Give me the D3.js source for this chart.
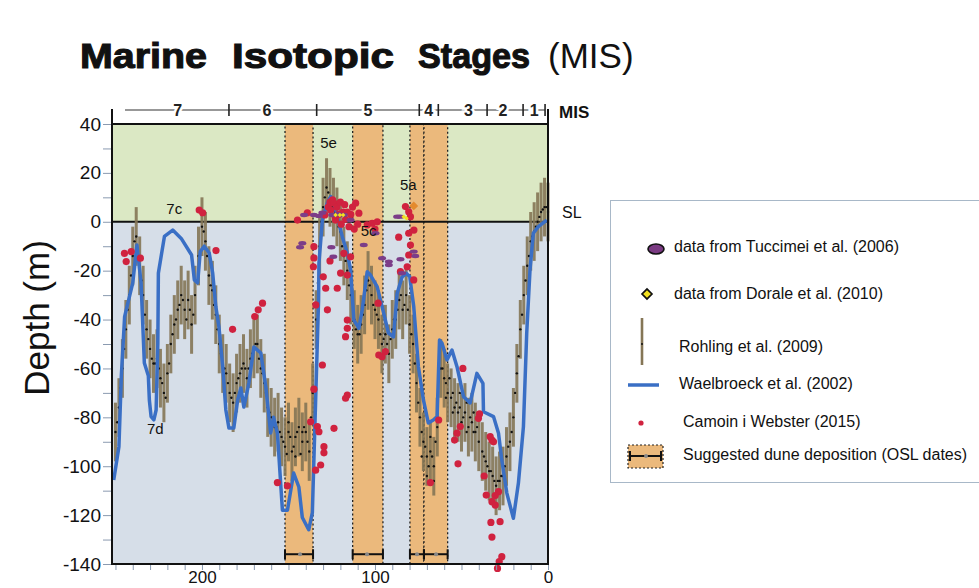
<!DOCTYPE html>
<html>
<head>
<meta charset="utf-8">
<script src="https://cdn.jsdelivr.net/npm/d3@7"></script>
<style>
  body { margin: 0; background: #fff; }
  svg { font-family: "Liberation Sans", Arial, sans-serif; }
</style>
</head>
<body>
<div id="chart"></div>
<script>
// Sea level curves and dune deposition windows, last ~250 kyr

// MIS stage boundaries (kyr) and label positions
const misBounds = [184.4, 133.7, 74.4, 63.4, 35.2, 14.4, 1.7];
const misLabels = [['7', 214], ['6', 162.5], ['5', 104], ['4', 69], ['3', 46], ['2', 26], ['1', 8]];

// tick labels
const yLabelTicks = [-140, -120, -100, -80, -60, -40, -20, 0, 20, 40];
const xLabelTicks = [200, 100, 0];

// OSL dune deposition windows [centre, younger, older]
const oslDates = [[143.3, 135.8, 152], [104.6, 95.4, 112.9], [75.7, 71.7, 79.8], [64.7, 58, 71.7]];

// Rohling et al. (2009) [age, depth], +/- error
const rohlingErr = 12;
const rohling = [
  [250,-86],[248,-76],[246,-60],[244,-44],[242,-30],[240,-14],[238,-6],[236,-18],[234,-30],[232,-44],
  [230,-52],[228,-58],[226,-56],[224,-64],[222,-70],[220,-62],[218,-50],[216,-42],[214,-36],[212,-30],
  [210,-36],[208,-32],[206,-42],[204,-30],[202,-14],[200,-2],[198,-8],[196,-22],[194,-28],[192,-38],
  [190,-50],[188,-58],[186,-62],[184,-70],[182,-74],[180,-66],[178,-62],[176,-58],[174,-64],[172,-56],
  [170,-52],[168,-50],[166,-60],[164,-66],[162,-76],[160,-80],[158,-84],[156,-82],[154,-88],[152,-92],
  [150,-86],[148,-94],[146,-88],[144,-84],[142,-90],[140,-86],[138,-94],[136,-70],[134,-40],[132,-10],
  [130,6],[128,14],[126,10],[124,6],[122,2],[120,-4],[118,-14],[116,-20],[114,-30],[112,-40],
  [110,-46],[108,-42],[106,-34],[104,-24],[102,-30],[100,-36],[98,-40],[96,-50],[94,-46],[92,-54],
  [90,-44],[88,-40],[86,-32],[84,-36],[82,-30],[80,-42],[78,-50],[76,-66],[74,-80],[72,-90],
  [70,-96],[68,-94],[66,-100],[64,-84],[62,-60],[60,-64],[58,-70],[56,-72],[54,-76],[52,-78],
  [50,-82],[48,-78],[46,-84],[44,-82],[42,-86],[40,-90],[38,-94],[36,-98],[34,-102],[32,-104],
  [30,-108],[28,-106],[26,-104],[24,-96],[22,-90],[20,-80],[18,-62],[16,-44],[14,-30],[12,-18],
  [10,-8],[8,-4],[6,0],[4,4],[2,6],[0,4]
];

// Rohling et al. (2009) extra sample points (dots only) [age, depth]
const rohlingDots = [
  [249,-82],[247,-68],[245,-52],[243,-36],[241,-22],[239,-8],[237,-12],[235,-24],[233,-38],[231,-48],
  [229,-56],[227,-58],[225,-60],[223,-66],[221,-72],[219,-58],[217,-46],[215,-40],[213,-34],[211,-32],
  [209,-40],[207,-36],[205,-38],[199,-4],[197,-14],[195,-26],[193,-34],[191,-44],[189,-54],[187,-60],
  [185,-66],[183,-72],[181,-70],[179,-64],[177,-60],[175,-60],[173,-60],[171,-54],[169,-50],[167,-56],
  [165,-62],[163,-70],[161,-78],[159,-82],[157,-84],[155,-86],
  [153,-90],[151,-95],[149,-88],[147,-92],[145,-86],[143,-95],[141,-84],[139,-90],[137,-80],[150,-82],
  [146,-96],[142,-86],
  [133,-25],[131,0],[129,10],[127,12],[125,6],[123,4],[121,-2],[119,-10],[117,-16],[115,-26],
  [111,-44],[109,-46],[107,-38],[105,-28],[103,-26],[101,-34],[99,-38],[97,-46],[95,-48],[93,-50],
  [91,-48],[89,-40],[87,-36],[85,-30],[83,-34],[81,-36],[79,-46],[77,-58],
  [75,-74],[73,-86],[71,-92],[69,-100],[67,-96],[65,-90],[73,-96],[70,-104],[68,-88],[66,-106],[64,-78],
  [61,-60],[59,-66],[57,-64],[55,-70],[53,-74],[51,-76],[49,-80],[47,-74],[45,-80],[43,-86],[41,-84],
  [59,-72],[55,-78],[51,-70],[47,-86],[43,-78],
  [37,-96],[35,-100],[33,-102],[31,-106],[29,-106],[27,-104],[25,-100],[23,-92],[21,-86],
  [19,-70],[17,-55],[15,-38],[13,-24],[11,-14],[9,-6],[7,-2],[5,2],[3,5],[1,6]
];

// Waelbroeck et al. (2002) [age, depth]
const waelbroeck = [
  [251,-105.6],[248,-92],[246.6,-63],[244.7,-38.8],[240,-25],[237.6,-9.5],[235.2,-25],[233.3,-57.8],
  [231,-63],[230.4,-73],[229.4,-79.7],[227.8,-81],[226.5,-77],[225.5,-49.6],[225.2,-21],[221.7,-6],
  [216.9,-3.4],[212,-6.8],[206,-13.6],[204.4,-23.8],[202.5,-25],[201,-12.2],[198.7,-10],[195.8,-12.8],
  [193.8,-21],[192,-34.7],[190.2,-43],[188,-59.3],[186.2,-77],[184.4,-84.4],[181.6,-84.4],[179.4,-73],
  [177.5,-68],[175.8,-75.8],[172.9,-66],[170,-51.2],[166,-53.7],[163.1,-67.6],[160.3,-86.4],[158.6,-80],
  [156.4,-86.4],[153.5,-118],[150.6,-118],[147,-102.8],[144,-108.5],[142,-121],[138.3,-126],[136.2,-119],
  [134.3,-73],[132.6,-32],[132.4,-17],[130.4,0.7],[127.6,7.7],[125.6,10.3],[123.7,7.6],[121.8,2.1],
  [118.9,-6.1],[116,-12.9],[114.1,-19.7],[112.2,-40.2],[109.3,-43.6],[107.4,-36.1],[104.5,-20.4],[102.6,-21.8],
  [98.7,-26.6],[95.9,-34.7],[92.2,-45.5],[89.3,-47.1],[87.2,-29.3],[84.3,-22.5],[81.8,-21.1],[79.9,-22.5],
  [77.6,-34.7],[74.9,-59.3],[72,-72.9],[69.2,-82.3],[66.3,-81.1],[64.1,-79.7],[62.7,-48.4],[61.3,-49.6],
  [58.4,-56.5],[55.5,-52.5],[52.6,-59.3],[48.8,-71.6],[45,-74.1],[41.1,-62],[37.6,-66.1],[37.3,-77.7],
  [31.5,-79.7],[28.6,-86.5],[26.7,-97.5],[23.8,-111],[20,-121.3],[17.1,-106.9],[14.2,-83.8],[12.3,-45.6],
  [10.4,-19.7],[8.5,-4.7],[5.6,-2],[0.7,0.7]
];

// Camoin i Webster (2015) [age, depth]
const camoin = [
  [244.8,-12.9],[243.8,-16.3],[240.9,-12.2],[235.6,-14.9],[201.6,4.8],[199.6,3.7],[191.9,-11.8],
  [182.3,-44],[169.5,-38.8],[167.5,-36],[165,-33.3],[156.4,-106.7],[150.6,-108],[144.8,0.7],[139.1,3.7],
  [137.2,-81.8],[135.3,-10.2],[135.3,-14.8],[135.6,-18.4],[134.2,-34],[135.3,-68.5],[134.3,-101.6],
  [133.3,-83.8],[132.4,-85.9],[131.4,-99.5],[130.4,-58.6],[129.9,-22.5],[128.5,-27.2],[129.5,-92],
  [129.5,-94.5],[123.7,-84.5],
  [129,2.8],[127,6],[126,8],[125.6,4.8],[124.5,9],[123.7,7.6],[123,2],[122.8,0.7],[122,6],[121,3],
  [120,8],[119.5,-1],[118.5,4],[117.5,7],[117,1],[116,4],[115,-2],[114,3],[113,6],[111.2,7.6],
  [109.3,3.5],[112,-3],[110,-1],
  [119.9,-21],[116,-21.8],[118,-12.9],[114.1,-14.3],[121.8,-27.2],[126,-16],[127.5,-36],
  [116,-40.2],[116,-43.6],[117,-47],[116,-70.9],[117,-72.2],
  [104.5,-1.3],[101.6,-0.6],[98.7,0],[100,-3],[98.2,-33.3],[97.8,-54.5],[95.9,-55.2],[94,-53.1],
  [86.3,-6.3],[82.4,6.2],[80.5,4.1],[79.5,2.1],[77.5,-3.4],[80.5,-4.7],[79.5,-9.5],[80.5,-13.6],
  [81.4,-18.4],[85.3,-20.4],[77.6,-23.8],
  [63.2,-81.1],[68,-106.7],[50.7,-83.8],[52.6,-86.5],[54,-89.3],[52,-99],[49.2,-60],[39.6,-78.6],
  [40.2,-80.4],[33.4,-87.9],[32.4,-89.3],[31.5,-90],[36.9,-104],[35.7,-111.8],[32.4,-114.5],[30.5,-115.9],
  [28.6,-110.4],[30.5,-112],[33,-123],[27.7,-122.7],[32.4,-129],[26.7,-137],[28.2,-139],[29.2,-141.8]
];

// Tuccimei et al. (2006) [age, depth]
const tuccimei = [
  [141,2.8],[135.3,2.8],[132.4,2.4],[142,-8.8],[143.3,-10.4],[130.4,3.7],[124.7,2.8],[125.2,-10.4],
  [124.1,-14.3],[121.5,3.1],[118,2.8],[114.1,0.7],[106.5,-9.5],[99.7,-4.7],[95.9,-14.9],[92,-16.3],
  [92,-17.7],[85.3,-15.3],[84.3,-21],[77.6,-12.2],[76.7,-14],[87.2,2.1],[85.5,2.1]
];

// Dorale et al. (2010) [age, depth]
const dorale = [[122.8,2.8],[120.3,2.8],[118.4,2.8],[83.4,2.1],[81.8,1.4]];
const doraleHigh = [[77.6,6.5]];

// stage annotations [text, age, depth]
const annotations = [['5e', 126.8, 30], ['7c', 216, 3], ['5c', 103.7, -6], ['5a', 80.7, 13], ['7d', 227, -87]];

const legendItems = [
  'data from Tuccimei et al. (2006)',
  'data from Dorale et al. (2010)',
  'Rohling et al. (2009)',
  'Waelbroeck et al. (2002)',
  'Camoin i Webster (2015)',
  'Suggested dune deposition (OSL dates)'
];

const width = 979, height = 588;
const svg = d3.select('#chart').append('svg').attr('width', width).attr('height', height);

const x = d3.scaleLinear().domain([252, 0]).range([112, 548]);
const y = d3.scaleLinear().domain([-140, 40]).range([564, 124]);

// title
const title = [['Marine', 80, 127], ['Isotopic', 232, 162], ['Stages', 418, 112]];
title.forEach(t => {
  svg.append('text')
    .attr('x', t[1]).attr('y', 68)
    .attr('textLength', t[2]).attr('lengthAdjust', 'spacingAndGlyphs')
    .style('font-size', '35px').style('font-weight', 'bold')
    .style('stroke', '#111').style('stroke-width', 1.1).style('fill', '#111')
    .text(t[0]);
});
svg.append('text').attr('x', 548).attr('y', 68)
  .style('font-size', '35px').style('fill', '#111').text('(MIS)');

// backgrounds
svg.append('rect').attr('x', x(252)).attr('y', y(40)).attr('width', x(0) - x(252)).attr('height', y(0) - y(40))
  .attr('fill', '#dbe8c4');
svg.append('rect').attr('x', x(252)).attr('y', y(0)).attr('width', x(0) - x(252)).attr('height', y(-140) - y(0))
  .attr('fill', '#d6dee8');

// dune bands
svg.selectAll('.band').data(oslDates).enter().append('rect')
  .attr('x', d => x(d[2])).attr('width', d => x(d[1]) - x(d[2]))
  .attr('y', y(40)).attr('height', y(-140) - y(40))
  .attr('fill', '#ebb97c')
  .attr('stroke', '#222').attr('stroke-width', 1.3).attr('stroke-dasharray', '2,2.5');

// sea level line
svg.append('line').attr('x1', x(252)).attr('x2', x(0)).attr('y1', y(0)).attr('y2', y(0))
  .attr('stroke', '#111').attr('stroke-width', 2);

// Rohling bars
svg.selectAll('.rbar').data(rohling).enter().append('line')
  .attr('x1', d => x(d[0])).attr('x2', d => x(d[0]))
  .attr('y1', d => y(d[1] + rohlingErr)).attr('y2', d => y(d[1] - rohlingErr))
  .attr('stroke', '#857656').attr('stroke-width', 3).attr('opacity', 0.9);
svg.selectAll('.rdot').data(rohling.concat(rohlingDots)).enter().append('circle')
  .attr('cx', d => x(d[0])).attr('cy', d => y(d[1]))
  .attr('r', 1.2).attr('fill', '#111');

// Waelbroeck line
svg.append('path').datum(waelbroeck)
  .attr('d', d3.line().x(d => x(d[0])).y(d => y(d[1])))
  .attr('fill', 'none').attr('stroke', '#3a6fc5').attr('stroke-width', 3.5)
  .attr('stroke-linejoin', 'round');

// Camoin dots
svg.selectAll('.cdot').data(camoin).enter().append('circle')
  .attr('cx', d => x(d[0])).attr('cy', d => y(d[1]))
  .attr('r', 3.6).attr('fill', '#d0223f');

// Tuccimei ellipses
svg.selectAll('.tdot').data(tuccimei).enter().append('ellipse')
  .attr('cx', d => x(d[0])).attr('cy', d => y(d[1]))
  .attr('rx', 4).attr('ry', 2.2).attr('fill', '#7c3d88');

// Dorale diamonds (rotated squares)
const square = d3.symbol().type(d3.symbolSquare);
svg.selectAll('.ddot').data(dorale).enter().append('path')
  .attr('d', square.size(10)())
  .attr('transform', d => `translate(${x(d[0])},${y(d[1])}) rotate(45)`)
  .attr('fill', '#f2e020');
svg.selectAll('.ddot2').data(doraleHigh).enter().append('path')
  .attr('d', square.size(40)())
  .attr('transform', d => `translate(${x(d[0])},${y(d[1])}) rotate(45)`)
  .attr('fill', '#e48a2e');

// OSL error bars
const osl = svg.selectAll('.osl').data(oslDates).enter().append('g');
osl.append('line')
  .attr('x1', d => x(d[2])).attr('x2', d => x(d[1])).attr('y1', y(-136)).attr('y2', y(-136))
  .attr('stroke', '#111').attr('stroke-width', 2);
osl.append('line')
  .attr('x1', d => x(d[2])).attr('x2', d => x(d[2])).attr('y1', y(-136) - 5).attr('y2', y(-136) + 5)
  .attr('stroke', '#111').attr('stroke-width', 2);
osl.append('line')
  .attr('x1', d => x(d[1])).attr('x2', d => x(d[1])).attr('y1', y(-136) - 5).attr('y2', y(-136) + 5)
  .attr('stroke', '#111').attr('stroke-width', 2);
osl.append('circle')
  .attr('cx', d => x(d[0])).attr('cy', y(-136)).attr('r', 2).attr('fill', '#888');

// axes
const yAxis = svg.append('g').attr('transform', `translate(${x(252)},0)`)
  .call(d3.axisLeft(y).tickValues(d3.range(-140, 41, 10)).tickSize(9).tickPadding(2)
    .tickFormat(d => yLabelTicks.includes(d) ? String(d) : ''));
yAxis.select('.domain').remove();
yAxis.selectAll('line').attr('stroke', '#8a9ab0');
yAxis.selectAll('text').style('font-size', '19px').style('fill', '#111')
  .style('font-family', '"Liberation Sans", Arial, sans-serif');

const xAxis = svg.append('g').attr('transform', `translate(0,${y(-140)})`)
  .call(d3.axisBottom(x).tickValues(d3.range(0, 251, 10)).tickSize(6).tickPadding(1)
    .tickFormat(d => xLabelTicks.includes(d) ? String(d) : ''));
xAxis.select('.domain').remove();
xAxis.selectAll('line').attr('stroke', '#8a9ab0');
xAxis.selectAll('text').style('font-size', '17px').style('fill', '#111')
  .style('font-family', '"Liberation Sans", Arial, sans-serif');

// frame
svg.append('rect').attr('x', x(252)).attr('y', y(40)).attr('width', x(0) - x(252)).attr('height', y(-140) - y(40))
  .attr('fill', 'none').attr('stroke', '#111').attr('stroke-width', 2);
[252, 0].forEach(a => {
  svg.append('line').attr('x1', x(a)).attr('x2', x(a)).attr('y1', 109).attr('y2', y(40))
    .attr('stroke', '#111').attr('stroke-width', 2);
});

// MIS row
svg.append('line').attr('x1', 125).attr('x2', x(misBounds[misBounds.length - 1])).attr('y1', 110).attr('y2', 110)
  .attr('stroke', '#333').attr('stroke-width', 1.1);
svg.selectAll('.misb').data(misBounds).enter().append('line')
  .attr('x1', d => x(d)).attr('x2', d => x(d)).attr('y1', 104).attr('y2', 116)
  .attr('stroke', '#222').attr('stroke-width', 1.6);
svg.selectAll('.misl').data(misLabels).enter().append('text')
  .attr('x', d => x(d[1])).attr('y', 116)
  .attr('text-anchor', 'middle')
  .style('font-size', '16px').style('font-weight', 'bold').style('fill', '#222')
  .style('stroke', '#fff').style('stroke-width', 5).style('paint-order', 'stroke')
  .text(d => d[0]);
svg.append('text').attr('x', 559).attr('y', 118)
  .style('font-size', '17px').style('font-weight', 'bold').style('fill', '#111').text('MIS');

// annotations
svg.selectAll('.ann').data(annotations).enter().append('text')
  .attr('x', d => x(d[1])).attr('y', d => y(d[2]))
  .attr('text-anchor', 'middle')
  .style('font-size', '15px').style('fill', '#111')
  .text(d => d[0]);
svg.append('text').attr('x', 562).attr('y', 218).style('font-size', '16px').style('fill', '#111').text('SL');

// y label
svg.append('text')
  .attr('transform', 'rotate(-90)')
  .attr('x', -318).attr('y', 49)
  .attr('text-anchor', 'middle')
  .style('font-size', '35px').style('fill', '#111')
  .text('Depth (m)');

// legend
const legend = svg.append('g');
legend.append('rect').attr('x', 610.5).attr('y', 200.5).attr('width', 380).attr('height', 282)
  .attr('fill', '#fff').attr('stroke', '#a8b8c8').attr('stroke-width', 1);

const legendY = [247, 294, 347, 384, 422, 455];
const legendX = [674, 674, 679, 679, 683, 683];
legend.selectAll('.ltext').data(legendItems).enter().append('text')
  .attr('x', (d, i) => legendX[i]).attr('y', (d, i) => legendY[i] + 5)
  .style('font-size', '16px').style('fill', '#111')
  .text(d => d);

legend.append('ellipse').attr('cx', 656).attr('cy', 249).attr('rx', 8).attr('ry', 5)
  .attr('fill', '#7a3a82').attr('stroke', '#111').attr('stroke-width', 1.6);
legend.append('path').attr('d', square.size(50)())
  .attr('transform', 'translate(647,294) rotate(45)')
  .attr('fill', '#f2e020').attr('stroke', '#111').attr('stroke-width', 1.6);
legend.append('line').attr('x1', 642).attr('x2', 642).attr('y1', 318).attr('y2', 365)
  .attr('stroke', '#857656').attr('stroke-width', 2.6);
legend.append('circle').attr('cx', 642).attr('cy', 344).attr('r', 1).attr('fill', '#111');
legend.append('line').attr('x1', 628).attr('x2', 659).attr('y1', 385).attr('y2', 385)
  .attr('stroke', '#3a6fc5').attr('stroke-width', 3.5);
legend.append('circle').attr('cx', 641).attr('cy', 423).attr('r', 2.6).attr('fill', '#d0223f');
legend.append('rect').attr('x', 628).attr('y', 445).attr('width', 35).attr('height', 23)
  .attr('fill', '#ebb97c').attr('stroke', '#222').attr('stroke-width', 1.2).attr('stroke-dasharray', '2,2');
legend.append('line').attr('x1', 630).attr('x2', 661).attr('y1', 456).attr('y2', 456)
  .attr('stroke', '#111').attr('stroke-width', 2);
[630, 661].forEach(px => {
  legend.append('line').attr('x1', px).attr('x2', px).attr('y1', 451).attr('y2', 461)
    .attr('stroke', '#111').attr('stroke-width', 2);
});
legend.append('circle').attr('cx', 646).attr('cy', 456).attr('r', 2).attr('fill', '#888');
</script>
</body>
</html>
